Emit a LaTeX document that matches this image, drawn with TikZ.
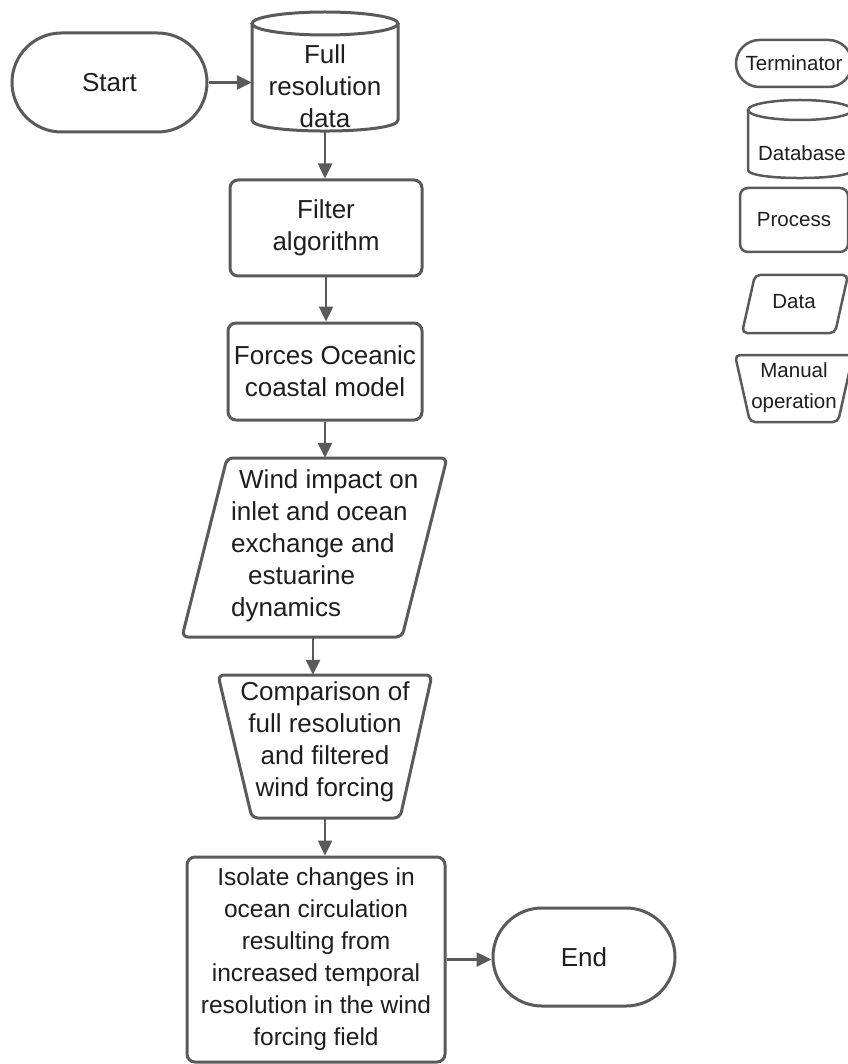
\documentclass[tikz,border=0pt]{standalone}
\usepackage{fontspec}
\setmainfont{Liberation Sans}
\usetikzlibrary{shapes.misc,arrows.meta,calc}
\definecolor{ln}{HTML}{5A5A5A}
\definecolor{tx}{HTML}{1E1E1E}
\begin{document}
\begin{tikzpicture}[x=1pt,y=-1pt,
  shp/.style={draw=ln, line width=3pt},
  lshp/.style={draw=ln, line width=2.5pt},
  arr/.style={draw=ln, line width=2.5pt, -{Triangle[length=15pt,width=14pt]}},
  txt/.style={text=tx, font=\fontsize{26}{32}\selectfont, align=center, inner sep=0pt},
  stxt/.style={text=tx, font=\fontsize{24.5}{32}\selectfont, align=center, inner sep=0pt},
  ltxt/.style={text=tx, font=\fontsize{20.5}{31}\selectfont, align=center, inner sep=0pt},
  term/.style={rounded rectangle, inner sep=0pt},
  proc/.style={rounded corners=8pt, inner sep=0pt},
  frame/.style={inner sep=0pt, draw=none},
]
\fill[white] (0,0) rectangle (847,1064);
\useasboundingbox (0,0) rectangle (847,1064);

% ---------- main flow ----------
\node[term, shp, txt, minimum width=195pt, minimum height=99pt] (start) at (109.5,82.5) {Start};

\node[frame, minimum width=146pt, minimum height=119pt] (db) at (325,71.5) {};
\draw[shp] (325,23.5) ellipse [x radius=73, y radius=11.5];
\draw[shp] (252,23.5) -- (252,120) .. controls (252,134.7) and (398,134.7) .. (398,120) -- (398,23.5);
\node[txt] (dbtext) at (325,86.5) {Full\\resolution\\data};

\node[proc, shp, txt, minimum width=192pt, minimum height=96pt] (filter) at (326,228) {Filter\\algorithm};

\node[proc, shp, txt, minimum width=194pt, minimum height=97pt] (forces) at (325,371.5) {Forces Oceanic\\coastal model};

\node[frame, minimum width=265pt, minimum height=179pt] (para) at (314.5,547.5) {};
\draw[shp, rounded corners=6pt] (337,458) -- (447,458) -- (402,637) -- (182,637) -- (227,458) -- cycle;
\node[txt, align=left, anchor=west] (paratext) at (231,546)
  {\hspace*{8pt}Wind impact on\\inlet and ocean\\exchange and\\\hspace*{17pt}estuarine\\dynamics};

\node[frame, minimum width=214pt, minimum height=143pt] (trap) at (325,746.5) {};
\draw[shp, rounded corners=6pt] (325,675) -- (432,675) -- (400,818) -- (252,818) -- (218,675) -- cycle;
\node[txt] (traptext) at (325,741.5) {Comparison of\\full resolution\\and filtered\\wind forcing};

\node[proc, shp, stxt, minimum width=258pt, minimum height=205pt] (iso) at (316,959.5)
  {Isolate changes in\\ocean circulation\\resulting from\\increased temporal\\resolution in the wind\\forcing field};

\node[term, shp, txt, minimum width=182pt, minimum height=98pt] (end) at (584,957) {End};

% ---------- connectors ----------
\draw[arr] (start.east) -- (start.east -| db.west);
\draw[arr] (db.south) -- (db.south |- filter.north);
\draw[arr] (filter.south) -- (filter.south |- forces.north);
\draw[arr] (forces.south) -- (forces.south |- para.north);
\draw[arr] ([xshift=-1.5pt]para.south) -- ([xshift=-1.5pt]para.south |- trap.north);
\draw[arr] (trap.south) -- (trap.south |- iso.north);
\draw[arr] (iso.east) -- (iso.east -| end.west);

% ---------- legend ----------
\node[term, lshp, ltxt, minimum width=116pt, minimum height=47pt] (lterm) at (794,63.5) {Terminator};

\node[frame, minimum width=104pt, minimum height=78pt] (ldb) at (800,139) {};
\draw[lshp] (800,110) ellipse [x radius=52, y radius=10];
\draw[lshp] (748,110) -- (748,170) .. controls (748,180.7) and (852,180.7) .. (852,170) -- (852,110);
\node[ltxt] (ldbtext) at (802,153) {Database};

\node[proc, lshp, ltxt, minimum width=108pt, minimum height=64pt] (lproc) at (794,220) {Process};

\node[frame, minimum width=106pt, minimum height=58pt] (ldata) at (795,304) {};
\draw[lshp, rounded corners=5pt] (800,275) -- (848,275) -- (835,333) -- (742,333) -- (755,275) -- cycle;
\node[ltxt] (ldatatext) at (794,302) {Data};

\node[frame, minimum width=118pt, minimum height=67pt] (lman) at (794,388.5) {};
\draw[lshp, rounded corners=5pt] (794,355) -- (853,355) -- (838,422) -- (750,422) -- (735,355) -- cycle;
\node[ltxt] (lmantext) at (794,387.5) {Manual\\operation};
\end{tikzpicture}
\end{document}
